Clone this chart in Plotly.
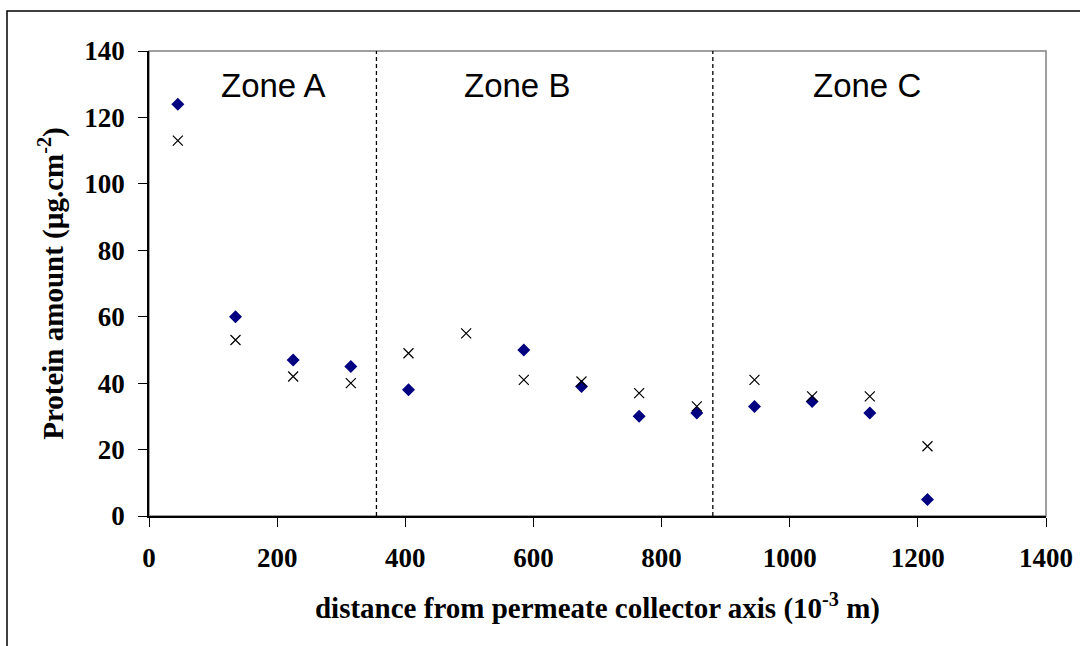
import plotly.graph_objects as go

# ---- data ----
distance = [45, 135, 225, 315, 405, 495, 585, 675, 765, 855, 945, 1035, 1125, 1215]
series_diamond = [124, 60, 47, 45, 38, None, 50, 39, 30, 31, 33, 34.5, 31, 5]
series_cross = [113, 53, 42, 40, 49, 55, 41, 40.5, 37, 33, 41, 36, 36, 21]
zone_bounds = [355, 880]
zone_names = ["Zone A", "Zone B", "Zone C"]
zone_label_x = [195, 575, 1120]
zone_label_y = 129.5
x_ticks = [0, 200, 400, 600, 800, 1000, 1200, 1400]
y_ticks = [0, 20, 40, 60, 80, 100, 120, 140]

SERIF = "Liberation Serif, Times New Roman, serif"
SANS = "Liberation Sans, Arial, sans-serif"

fig = go.Figure()
fig.add_trace(go.Scatter(
    x=distance, y=series_diamond, mode="markers",
    marker=dict(symbol="diamond", size=10, color="#000080", line=dict(width=0)),
    showlegend=False, cliponaxis=False, hoverinfo="skip"))
fig.add_trace(go.Scatter(
    x=distance, y=series_cross, mode="markers",
    marker=dict(symbol="x-thin", size=10, color="black", line=dict(width=1.2, color="black")),
    showlegend=False, cliponaxis=False, hoverinfo="skip"))

shapes = []
for xb in zone_bounds:
    shapes.append(dict(type="line", xref="x", yref="y", x0=xb, x1=xb, y0=0, y1=140,
                       line=dict(color="black", width=1.3, dash="4px,3px"), layer="above"))
# plot-area border (gray)
shapes.append(dict(type="rect", xref="paper", yref="paper", x0=0, x1=1, y0=0, y1=1,
                   line=dict(color="#808080", width=1.5), layer="below"))
# outer chart frame (black), cropped by the page
L, R, T, B = 149, 34, 51, 130
W, H = 1080 - L - R, 646 - T - B
shapes.append(dict(type="rect", xref="paper", yref="paper",
                   x0=(7 - L) / W, x1=(1090 - L) / W,
                   y0=(H + T - 660) / H, y1=(H + T - 11) / H,
                   line=dict(color="black", width=1.5), layer="below"))

annotations = []
for name, zx in zip(zone_names, zone_label_x):
    annotations.append(dict(x=zx, y=zone_label_y, xref="x", yref="y", text=name,
                            showarrow=False, font=dict(family=SANS, size=33, color="black")))

fig.update_layout(
    width=1080, height=646,
    margin=dict(l=L, r=R, t=T, b=B, autoexpand=False),
    paper_bgcolor="white", plot_bgcolor="white",
    shapes=shapes, annotations=annotations,
    xaxis=dict(range=[0, 1400], tickvals=x_ticks, showgrid=False, zeroline=False,
               automargin=False,
               showline=True, linecolor="black", linewidth=1.5,
               ticks="outside", ticklen=9, tickcolor="black", tickwidth=1,
               ticklabelstandoff=8,
               tickfont=dict(family=SERIF, size=27, color="black", weight="bold"),
               title=dict(text="distance from permeate collector axis (10<sup>-3</sup> m)",
                          font=dict(family=SERIF, size=29, color="black", weight="bold"),
                          standoff=26)),
    yaxis=dict(range=[0, 140], tickvals=y_ticks, showgrid=False, zeroline=False,
               automargin=False,
               showline=True, linecolor="black", linewidth=1.5,
               ticks="outside", ticklen=9, tickcolor="black", tickwidth=1,
               ticklabelstandoff=8,
               tickfont=dict(family=SERIF, size=27, color="black", weight="bold"),
               title=dict(text="Protein amount (µg.cm<sup>-2</sup>)",
                          font=dict(family=SERIF, size=29, color="black", weight="bold"),
                          standoff=12)),
)

fig.write_html("out.html", config={"displayModeBar": False},
               post_script="document.body.style.margin='0';document.body.style.overflow='hidden';")
